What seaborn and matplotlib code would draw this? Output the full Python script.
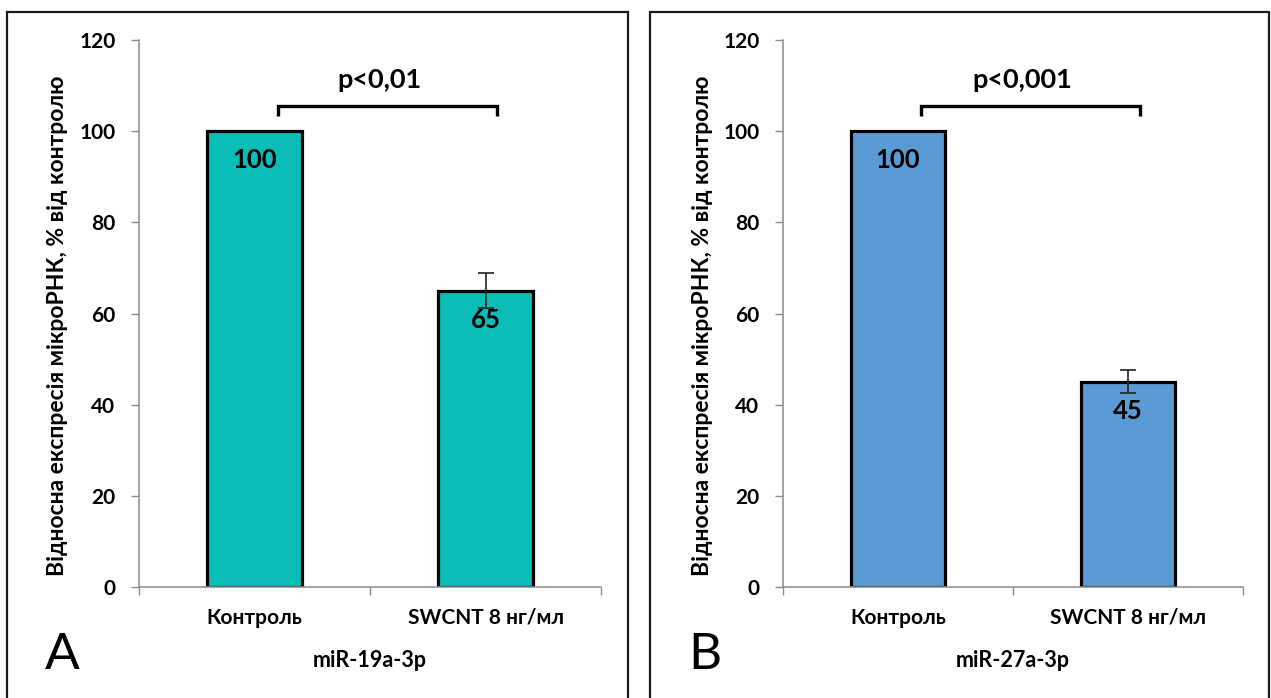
import matplotlib
matplotlib.use("Agg")
import matplotlib.pyplot as plt
import seaborn as sns
import pandas as pd
from matplotlib.patches import Rectangle
from matplotlib.ticker import FixedLocator

sns.set_theme(style="white")
plt.rcParams['font.family'] = ['Lato', 'DejaVu Sans']

# Data
groups = ["Контроль", "SWCNT 8 нг/мл"]
mir_names = ["miR-19a-3p", "miR-27a-3p"]
values_a = [100, 65]
errors_a = [0, 3.8]
values_b = [100, 45]
errors_b = [0, 2.5]
p_labels = ["p<0,01", "p<0,001"]
panel_letters = ["A", "B"]
yticks = [0, 20, 40, 60, 80, 100, 120]
ylabel = "Відносна експресія мікроРНК, % від контролю"

colors = ["#0ABDB6", "#5B9BD5"]
axis_grey = "#8C8C8C"

W, H = 1271, 698
fig = plt.figure(figsize=(W / 100, H / 100), dpi=100)

# Panel frames
for x0, x1 in [(7, 628), (650, 1269)]:
    fig.patches.append(Rectangle((x0 / W, -0.05), (x1 - x0) / W, 1.05 - 12 / H,
                                 transform=fig.transFigure, fill=False,
                                 edgecolor="#1a1a1a", linewidth=1.6, zorder=0))

axes_pos = [
    [139 / W, 1 - 587 / H, 462 / W, 547 / H],
    [783 / W, 1 - 587 / H, 460 / W, 547 / H],
]

panels = [(values_a, errors_a), (values_b, errors_b)]

for i, (vals, errs) in enumerate(panels):
    ax = fig.add_axes(axes_pos[i])
    df = pd.DataFrame({"group": groups, "value": vals})
    sns.barplot(data=df, x="group", y="value", ax=ax, color=colors[i],
                width=0.41, edgecolor="black", linewidth=2.3, errorbar=None,
                saturation=1)

    # error bar only for the treated group
    ax.errorbar([1], [vals[1]], yerr=[errs[1]], fmt="none", ecolor="#222222",
                elinewidth=1.2, capsize=6, capthick=1.2, zorder=5)

    # value labels inside bars
    for xi, v in enumerate(vals):
        ax.annotate(f"{v}", xy=(xi, v), xytext=(0, -21), textcoords="offset points",
                    ha="center", va="center", fontsize=18.5, fontweight="bold",
                    color="black", zorder=6)

    # significance bracket
    bx0, bx1, by, leg = 0.1, 1.05, 105.5, 2.2
    ax.plot([bx0, bx0, bx1, bx1], [by - leg, by, by, by - leg], color="black",
            linewidth=2.4, solid_capstyle="butt", solid_joinstyle="miter",
            clip_on=False, zorder=6)
    ax.text(0.54, 111.3, p_labels[i], ha="center", va="center",
            fontsize=19.5, fontweight="bold", color="black")

    ax.set_xlim(-0.5, 1.5)
    ax.set_ylim(0, 120)
    ax.set_yticks(yticks)
    ax.set_yticklabels([str(t) for t in yticks], fontsize=15, fontweight="bold")
    ax.set_xticks([0, 1])
    ax.set_xticklabels(groups, fontsize=15, fontweight="bold")
    ax.xaxis.set_minor_locator(FixedLocator([-0.5, 0.5, 1.5]))
    ax.tick_params(axis="x", which="major", length=0, pad=15, colors="black")
    ax.tick_params(axis="x", which="minor", length=6, width=1, color=axis_grey,
                   direction="out", bottom=True)
    ax.tick_params(axis="y", which="major", length=6, width=1, color=axis_grey,
                   direction="out", left=True, pad=11, labelcolor="black")

    for s in ["top", "right"]:
        ax.spines[s].set_visible(False)
    for s in ["left", "bottom"]:
        ax.spines[s].set_color(axis_grey)
        ax.spines[s].set_linewidth(1.1)

    ax.set_xlabel(mir_names[i], fontsize=15.5, fontweight="bold", labelpad=16,
                  color="black")
    ax.set_ylabel(ylabel, fontsize=16.5, fontweight="bold", color="black")
    ax.yaxis.set_label_coords(-0.153, 0.478)
    ax.set_facecolor("white")

    # panel letter
    fig.text((45 if i == 0 else 688) / W, 1 - 655 / H, panel_letters[i],
             fontsize=37, ha="left", va="center", color="black")

fig.savefig("out.png", dpi=100, facecolor="white")
